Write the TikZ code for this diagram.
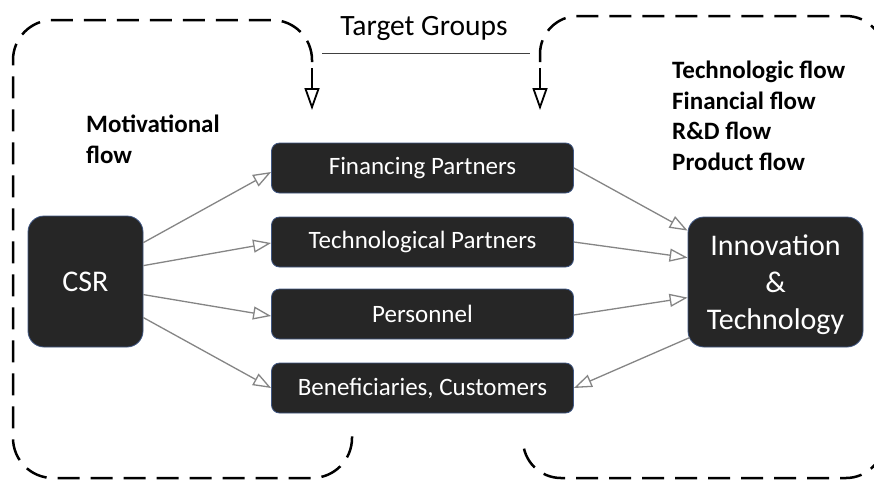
\documentclass[tikz,border=0pt]{standalone}
\usepackage{fontspec}
\setmainfont{Carlito}
\usetikzlibrary{arrows.meta,calc}
\definecolor{boxfill}{HTML}{262626}
\definecolor{boxline}{HTML}{3F5682}
\definecolor{conncol}{HTML}{858585}
\begin{document}
\begin{tikzpicture}[x=1pt,y=-1pt,
  box/.style={draw=boxline, line width=0.8pt, fill=boxfill, text=white, rounded corners=8pt,
    inner sep=0pt, minimum width=302pt, minimum height=50pt, font=\fontsize{25}{30}\selectfont},
  bigbox/.style={box, rounded corners=16pt, font=\fontsize{30}{37}\selectfont, align=center},
  conn/.style={draw=conncol, line width=1.3pt, -{Triangle[open, length=18pt, width=13pt]}},
  dashbox/.style={line width=2.5pt, dash pattern=on 22pt off 11pt},
  tgarrow/.style={line width=1.8pt, -{Triangle[open, length=22pt, width=15pt]}},
  flow/.style={font=\bfseries\fontsize{25}{30.5}\selectfont, align=left, anchor=north west, inner sep=0pt}
]
\clip (0,0) rectangle (874,480);
\fill[white] (0,0) rectangle (874,480);

% dashed groups
\draw[dashbox] (312,62) [rounded corners=40pt] -- (312,20) -- (13,20) -- (13,478)
  -- (352,478) [rounded corners=20pt] -- (352,435);
\draw[dashbox] (540,62) [rounded corners=38pt] -- (540,16) -- (884,16) -- (884,478)
  -- (523,478) [rounded corners=20pt] -- (523,438);

% target groups
\node[font=\fontsize{29.5}{35}\selectfont, anchor=base, inner sep=0pt] (tg) at (424,35) {Target Groups};
\coordinate (tgl) at (322,53);
\coordinate (tgr) at (530,53);
\draw[line width=1pt, black!75] (tgl) -- (tgr);
\coordinate (ta1) at (312,68);
\coordinate (tb1) at (312,110);
\coordinate (ta2) at (540,68);
\coordinate (tb2) at (540,110);
\draw[tgarrow] (ta1) -- (tb1);
\draw[tgarrow] (ta2) -- (tb2);

% flow labels
\node[flow] (mot) at (86,115) {Motivational\\flow};
\node[flow] (flows) at (672,61) {Technologic flow\\Financial flow\\R\&D flow\\Product flow};

% nodes
\node[bigbox, minimum width=115pt, minimum height=131pt] (csr) at (85.5,281.5) {CSR};
\node[box] (fin) at (422.5,168) {Financing Partners};
\node[box] (tec) at (422.5,242) {Technological Partners};
\node[box] (per) at (422.5,314) {Personnel};
\node[box] (ben) at (422.5,388) {Beneficiaries, Customers};
\node[bigbox, minimum width=175pt, minimum height=130pt] (inn) at (775.5,282) {};
\node[font=\fontsize{30}{37}\selectfont, text=white, align=center, inner sep=0pt] (innt) at (775.5,285) {Innovation\\\&\\Technology};

% connectors
\draw[conn] ($(csr.north east)+(0,27)$) -- ($(fin.west)+(0,4)$);
\draw[conn] ($(csr.north east)+(0,50)$) -- ($(tec.west)+(0,1)$);
\draw[conn] ($(csr.north east)+(0,79)$) -- ($(per.west)+(0,2)$);
\draw[conn] ($(csr.north east)+(0,102)$) -- (ben.west);
\draw[conn] (fin.east) -- ($(inn.north west)+(0,14)$);
\draw[conn] (tec.east) -- ($(inn.north west)+(0,41)$);
\draw[conn] ($(per.east)+(0,1)$) -- ($(inn.north west)+(0,81)$);
\draw[conn] ($(inn.north west)+(2,121)$) -- (ben.east);
\end{tikzpicture}
\end{document}
